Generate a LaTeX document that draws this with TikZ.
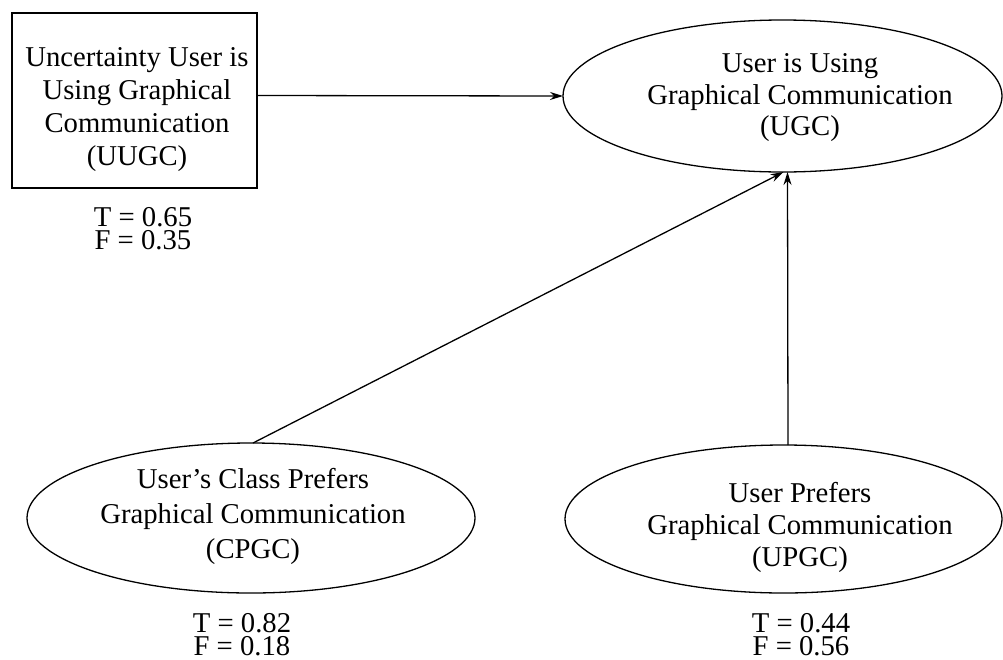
\documentclass[tikz,border=0pt]{standalone}
\usepackage{fontspec}
\setmainfont{Liberation Serif}
\usetikzlibrary{shapes.geometric,arrows.meta}
\tikzset{
  every node/.style={inner sep=0pt, outer sep=0pt},
  bigtxt/.style={align=center, font=\fontsize{28.7}{33}\selectfont},
  probtxt/.style={align=center, font=\fontsize{28.7}{23}\selectfont},
  oval/.style={draw, ellipse, line width=1.3pt},
  boxnode/.style={draw, rectangle, line width=1.3pt},
  arr/.style={line width=1.3pt, -{Stealth[length=13pt,width=8pt]}},
  plain/.style={line width=1.3pt}
}
\begin{document}
\begin{tikzpicture}[x=1pt,y=-1pt]
\useasboundingbox (0,0) rectangle (1003,659);
% box
\node[boxnode, minimum width=245pt, minimum height=175pt] (uugc) at (134.5,100.5) {};
\node[bigtxt] (uugct) at (137,109.7) {Uncertainty User is\\Using Graphical\\Communication\\(UUGC)};
\node[probtxt] (uugcp) at (143,228.8) {T = 0.65\\F = 0.35};
% ellipses
\node[oval, minimum width=439pt, minimum height=152pt] (ugc) at (782.5,96) {};
\node[bigtxt, font=\fontsize{28.7}{31.5}\selectfont] (ugct) at (800,97.7) {User is Using\\Graphical Communication\\(UGC)};
\node[oval, minimum width=448pt, minimum height=150pt] (cpgc) at (251,518) {};
\node[bigtxt, font=\fontsize{28.7}{35}\selectfont] (cpgct) at (253,516) {User's Class Prefers\\Graphical Communication\\(CPGC)};
\node[probtxt] (cpgcp) at (242,634.8) {T = 0.82\\F = 0.18};
\node[oval, minimum width=437pt, minimum height=148pt] (upgc) at (783.5,519) {};
\node[bigtxt, font=\fontsize{28.7}{32}\selectfont] (upgct) at (800,527) {User Prefers\\Graphical Communication\\(UPGC)};
\node[probtxt] (upgcp) at (801,634.8) {T = 0.44\\F = 0.56};
% connectors
\draw[arr] ([yshift=5pt]uugc.east) -- (ugc.west);
\draw[arr] ([xshift=2pt]cpgc.north) -- ([xshift=1pt]ugc.south);
\draw[arr] ([xshift=4.5pt]upgc.north) -- ([xshift=5pt]ugc.south);
\end{tikzpicture}
\end{document}
